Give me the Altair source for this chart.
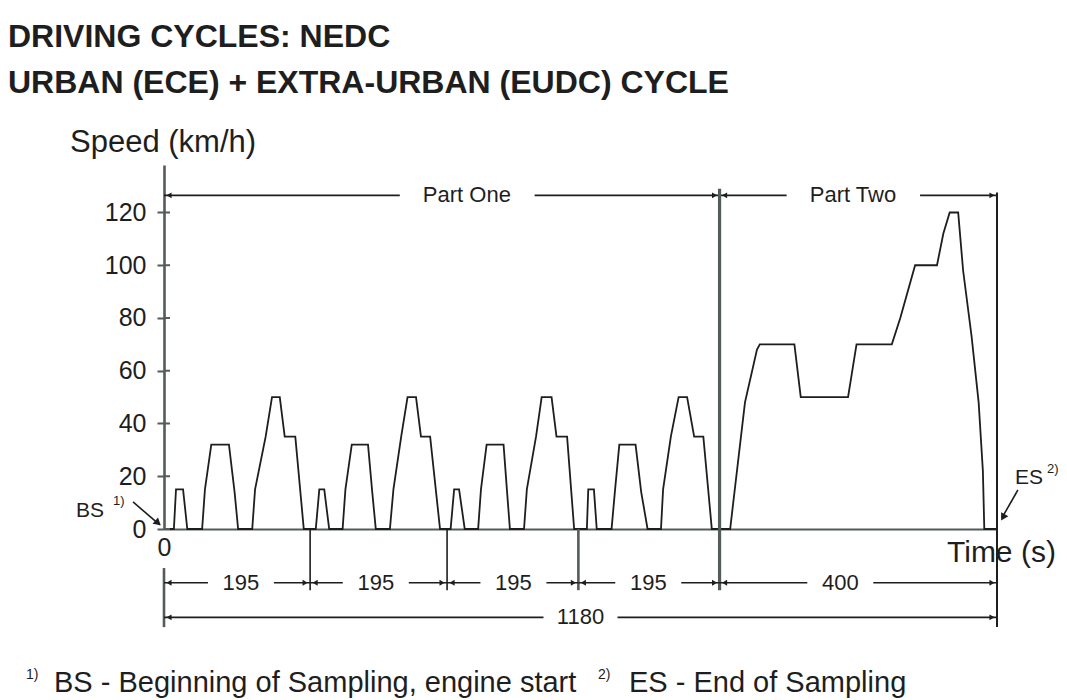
import altair as alt
import pandas as pd

# ---------------- data ----------------
# time (s) and speed (km/h) break points of the NEDC trace
time_s = [0,
          14, 17, 27, 33, 54, 58, 67, 92, 100, 105, 125, 129, 144, 153, 164, 171, 186, 198,
          215, 220, 227, 234, 253, 257, 266, 289, 295, 300, 320, 325, 336, 345, 357, 364, 377, 391,
          406, 411, 418, 426, 445, 449, 457, 481, 486, 490, 510, 514, 527, 535, 549, 556, 571, 581,
          599, 601, 609, 613, 634, 639, 645, 668, 676, 685, 704, 707, 718, 729, 741, 751, 764, 776,
          802, 823, 840, 844, 893, 902, 969, 981, 1031, 1043, 1064, 1095, 1104, 1113, 1125,
          1132, 1144, 1154, 1160, 1162, 1180]
speed_kmh = [0,
             0, 15, 15, 0, 0, 15, 32, 32, 14, 0, 0, 15, 35, 50, 50, 35, 35, 0,
             0, 15, 15, 0, 0, 15, 32, 32, 14, 0, 0, 15, 35, 50, 50, 35, 35, 0,
             0, 15, 15, 0, 0, 15, 32, 32, 14, 0, 0, 15, 35, 50, 50, 35, 35, 0,
             0, 15, 15, 0, 0, 15, 32, 32, 14, 0, 0, 15, 35, 50, 50, 35, 35, 0,
             0, 48, 68, 70, 70, 50, 50, 70, 70, 80, 100, 100, 112, 120, 120,
             98, 73, 48, 22, 0, 0]

y_ticks = [0, 20, 40, 60, 80, 100, 120]
x_ticks = [0]

# phase boundaries as drawn (s) and their dimension labels
bounds = [0, 207, 401, 587, 787, 1180]
dim_labels = ["195", "195", "195", "195", "400"]
dim_label_t = [109, 300, 495, 686, 958]
total_label = "1180"
total_label_t = 590
part_labels = ["Part One", "Part Two"]
part_label_t = [429, 976]

title_lines = ["DRIVING CYCLES: NEDC", "URBAN (ECE) + EXTRA-URBAN (EUDC) CYCLE"]
y_title = "Speed (km/h)"
x_title = "Time (s)"
foot_1 = "BS - Beginning of Sampling, engine start"
foot_2 = "ES - End of Sampling"

# ---------------- styling ----------------
FONT = "Liberation Sans"
INK = "#1e1e1e"
GREY = "#555a5a"
W, H = 833, 364
PX = W / 1180.0          # pixels per second
PY = H / 138.0           # pixels per km/h

xs = alt.Scale(domain=[0, 1180], nice=False, zero=False)
ys = alt.Scale(domain=[0, 138], nice=False, zero=False)

XAX = alt.Axis(values=x_ticks, title=None, ticks=False, labelFontSize=25, labelFont=FONT,
               labelColor=INK, labelPadding=6, domainColor=GREY, domainWidth=2.2,
               grid=False, labelFlush=False)
YAX = alt.Axis(values=y_ticks, title=None, tickSize=7, tickWidth=2, tickColor=GREY,
               labelFontSize=25, labelFont=FONT, labelColor=INK, labelPadding=11,
               domainColor=GREY, domainWidth=2.6, grid=False, labelFlush=False)

def X(field):
    return alt.X(field, type="quantitative", scale=xs, axis=XAX)

def Y(field):
    return alt.Y(field, type="quantitative", scale=ys, axis=YAX)

speed_df = pd.DataFrame({"t": time_s, "v": speed_kmh})

trace = alt.Chart(speed_df).mark_line(color=INK, strokeWidth=1.8).encode(
    x=X("t"), y=Y("v"))

# inward half of the y ticks
tick_in = alt.Chart(pd.DataFrame({"v": y_ticks})).mark_rule(color=GREY, strokeWidth=2).encode(
    y=Y("v"), x=alt.value(0), x2=alt.value(6))

layers = [trace, tick_in]

# Part One / Part Two arrow lines
part_v = 126.5
part_y = H - part_v * PY
gap_part = [(0, 334, 525, 787), (787, 882, 1071, 1180)]
pseg = []
for a, l, r, b in gap_part:
    pseg.append({"a": a, "b": l})
    pseg.append({"a": r, "b": b})
layers.append(alt.Chart(pd.DataFrame(pseg)).mark_rule(color=INK, strokeWidth=1.6).encode(
    x=X("a"), x2=alt.X2("b"), y=alt.value(part_y)))
off = 5 / PX
layers.append(alt.Chart(pd.DataFrame({"t": [0 + off, 787 + off]})).mark_point(
    shape="triangle-left", filled=True, size=35, color=INK, opacity=1).encode(
    x=X("t"), y=alt.value(part_y)))
layers.append(alt.Chart(pd.DataFrame({"t": [787 - off, 1180 - off]})).mark_point(
    shape="triangle-right", filled=True, size=35, color=INK, opacity=1).encode(
    x=X("t"), y=alt.value(part_y)))
layers.append(alt.Chart(pd.DataFrame({"t": part_label_t, "s": part_labels})).mark_text(
    font=FONT, fontSize=22, color=INK, baseline="middle", align="center").encode(
    x=X("t"), y=alt.value(part_y), text="s:N"))

# vertical boundary lines
vl = pd.DataFrame({
    "t":  [0, 207, 401, 587, 787, 1180],
    "y1": [-14.8, 0, 0, 0, 129.0, 127.6],
    "y2": [-37.2, -23.2, -23.2, -23.2, -23.2, -37.2],
    "c":  [GREY, INK, INK, GREY, GREY, INK],
    "w":  [2.6, 1.6, 1.6, 2.6, 3.2, 2.0],
})
layers.append(alt.Chart(vl).mark_rule().encode(
    x=X("t"), y=Y("y1"), y2=alt.Y2("y2"),
    color=alt.Color("c:N", scale=None), strokeWidth=alt.StrokeWidth("w:Q", scale=None)))

# dimension lines
row1_v, row2_v = -20.4, -33.5
half1, half2 = 33 / PX, 37 / PX
segs, la, ra = [], [], []
for i in range(len(dim_labels)):
    a, b, c = bounds[i], bounds[i + 1], dim_label_t[i]
    segs += [{"a": a, "b": c - half1, "v": row1_v}, {"a": c + half1, "b": b, "v": row1_v}]
    la.append({"t": a + off, "v": row1_v})
    ra.append({"t": b - off, "v": row1_v})
segs += [{"a": 0, "b": total_label_t - half2, "v": row2_v},
         {"a": total_label_t + half2, "b": 1180, "v": row2_v}]
la.append({"t": 0 + off, "v": row2_v})
ra.append({"t": 1180 - off, "v": row2_v})
layers.append(alt.Chart(pd.DataFrame(segs)).mark_rule(color=INK, strokeWidth=1.6).encode(
    x=X("a"), x2=alt.X2("b"), y=Y("v")))
layers.append(alt.Chart(pd.DataFrame(la)).mark_point(
    shape="triangle-left", filled=True, size=35, color=INK, opacity=1).encode(x=X("t"), y=Y("v")))
layers.append(alt.Chart(pd.DataFrame(ra)).mark_point(
    shape="triangle-right", filled=True, size=35, color=INK, opacity=1).encode(x=X("t"), y=Y("v")))
dl = pd.DataFrame({"t": dim_label_t + [total_label_t],
                   "v": [row1_v] * len(dim_labels) + [row2_v],
                   "s": dim_labels + [total_label]})
layers.append(alt.Chart(dl).mark_text(font=FONT, fontSize=22, color=INK,
                                      baseline="middle", align="center").encode(
    x=X("t"), y=Y("v"), text="s:N"))

# BS / ES arrows
arrows = pd.DataFrame({"t1": [-43.9, 1209.6], "v1": [10.25, 14.8],
                       "t2": [-6.0, 1187.0], "v2": [1.6, 4.2]})
layers.append(alt.Chart(arrows).mark_rule(color=INK, strokeWidth=1.6).encode(
    x=X("t1"), y=Y("v1"), x2=alt.X2("t2"), y2=alt.Y2("v2")))
layers.append(alt.Chart(pd.DataFrame({"t": [-8.5], "v": [2.3]})).mark_point(
    shape="triangle-up", filled=True, size=70, angle=131, color=INK, opacity=1).encode(
    x=X("t"), y=Y("v")))
layers.append(alt.Chart(pd.DataFrame({"t": [1188.4], "v": [4.4]})).mark_point(
    shape="triangle-up", filled=True, size=70, angle=210, color=INK, opacity=1).encode(
    x=X("t"), y=Y("v")))

one = pd.DataFrame({"k": [0]})

def txt(s, x, y, size, weight="normal", align="left", baseline="alphabetic"):
    return alt.Chart(one).mark_text(text=s, font=FONT, fontSize=size, fontWeight=weight,
                                    align=align, baseline=baseline, color=INK).encode(
        x=alt.value(x), y=alt.value(y))

# pixel positions relative to plot origin
layers += [
    txt("BS", -60, H - 12, 21, align="right"),
    txt("1)", -51, H - 24, 13),
    txt("ES", 851, H - 45, 21),
    txt("2)", 883, H - 56, 13),
    txt(x_title, 783, H + 24, 30, baseline="middle"),
    txt(y_title, -94, -13, 31),
    txt(title_lines[0], -156, -118, 32, weight="bold"),
    txt(title_lines[1], -156, -72, 32, weight="bold"),
    txt("1)", -138, 514, 14),
    txt(foot_1, -110, 527, 29),
    txt("2)", 434, 514, 14),
    txt(foot_2, 465, 527, 29),
]

chart = alt.layer(*layers).properties(
    width=W, height=H,
    autosize=alt.AutoSizeParams(type="none"),
    padding={"left": 156, "top": 157, "right": 62, "bottom": 171},
    background="white",
).configure_view(stroke=None)

chart.save("out.html", embed_options={"renderer": "svg", "actions": False})
